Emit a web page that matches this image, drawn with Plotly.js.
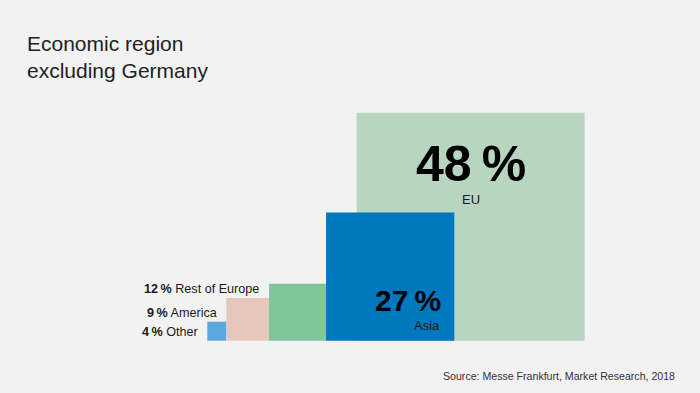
<!DOCTYPE html>
<html>
<head>
<meta charset="utf-8">
<script src="https://cdn.plot.ly/plotly-3.0.1.min.js"></script>
<style>
html,body{margin:0;padding:0;background:#f2f2f2;}
#chart{width:700px;height:393px;}
</style>
</head>
<body>
<div id="chart"></div>
<script>
// Data (share of exhibitors by economic region excluding Germany)
var regions = ['Other', 'America', 'Rest of Europe', 'Asia', 'EU'];
var shares = [4, 9, 12, 27, 48];
var colors = ['#5aa8de', '#e6c7bb', '#80c59b', '#0078c0', '#b7d5bf'];
var sourceText = 'Source: Messe Frankfurt, Market Research, 2018';
var titleText = 'Economic region<br>excluding Germany';

// Layout constants (px scale: 1 % = 4.75 px, squares side = share)
var PX = 4.75, X0 = 207.3, Y0 = 340.7, W = 700, H = 393;
var EU_OVERLAP = 6.45; // EU square starts this far into the Asia square

// Square positions (left edges) computed from shares
var lefts = [];
var acc = 0;
for (var i = 0; i < shares.length; i++) {
  if (regions[i] === 'EU') {
    lefts.push(lefts[i - 1] + EU_OVERLAP);
  } else {
    lefts.push(acc);
    acc += shares[i];
  }
}
var centers = shares.map(function (s, i) { return lefts[i] + s / 2; });

// Draw order: EU behind everything else
var order = [4, 0, 1, 2, 3];
var trace = {
  type: 'bar',
  x: order.map(function (i) { return centers[i]; }),
  y: order.map(function (i) { return shares[i]; }),
  width: order.map(function (i) { return shares[i]; }),
  base: 0,
  marker: { color: order.map(function (i) { return colors[i]; }), line: { width: 0 } },
  hoverinfo: 'skip',
  showlegend: false
};

var font = 'Liberation Sans, Arial, sans-serif';
var txt = '#1a1a1a';
var ann = [];
function pct(v) { return v + '\u2009%'; }

// Big labels inside EU and Asia squares
var iEU = regions.indexOf('EU'), iAs = regions.indexOf('Asia');
ann.push({ x: centers[iEU], y: shares[iEU] * 0.775, text: '<b>' + pct(shares[iEU]) + '</b>', height: 42, valign: 'middle',
  showarrow: false, xanchor: 'center', yanchor: 'middle', font: { family: font, size: 50, color: '#000' } });
ann.push({ x: centers[iEU], y: shares[iEU] * 0.62, text: regions[iEU],
  showarrow: false, xanchor: 'center', yanchor: 'middle', font: { family: font, size: 13, color: txt } });
ann.push({ x: lefts[iAs] + shares[iAs] - 2.4, y: shares[iAs] * 0.317, text: '<b>' + pct(shares[iAs]) + '</b>',
  showarrow: false, xanchor: 'right', yanchor: 'middle', font: { family: font, size: 30, color: '#000' } });
ann.push({ x: lefts[iAs] + shares[iAs] - 2.6, y: shares[iAs] * 0.122, text: regions[iAs],
  showarrow: false, xanchor: 'right', yanchor: 'middle', font: { family: font, size: 13, color: txt } });

// Side labels for small squares
var sideY = { 'Other': 0.46, 'America': 0.655, 'Rest of Europe': 0.9 };
['Other', 'America', 'Rest of Europe'].forEach(function (r) {
  var i = regions.indexOf(r);
  ann.push({ x: lefts[i] - 1.6, y: shares[i] * sideY[r], text: '<b>' + pct(shares[i]) + '</b> ' + r,
    showarrow: false, xanchor: 'right', yanchor: 'middle', font: { family: font, size: 12.6, color: txt } });
});

// Title and source
ann.push({ xref: 'paper', yref: 'paper', x: 25 / W, y: 1 - 30 / H, text: titleText, align: 'left',
  showarrow: false, xanchor: 'left', yanchor: 'top', font: { family: font, size: 21, color: '#222' } });
ann.push({ xref: 'paper', yref: 'paper', x: 677 / W, y: 1 - 376 / H, text: sourceText,
  showarrow: false, xanchor: 'right', yanchor: 'middle', font: { family: font, size: 10.6, color: '#333' } });

var layout = {
  width: W, height: H,
  margin: { l: 0, r: 0, t: 0, b: 0, pad: 0 },
  paper_bgcolor: '#f2f2f2', plot_bgcolor: '#f2f2f2',
  xaxis: { range: [-X0 / PX, (W - X0) / PX], visible: false, fixedrange: true },
  yaxis: { range: [-(H - Y0) / PX, Y0 / PX], visible: false, fixedrange: true },
  annotations: ann,
  showlegend: false
};

Plotly.newPlot('chart', [trace], layout, { displayModeBar: false, staticPlot: true });
</script>
</body>
</html>
